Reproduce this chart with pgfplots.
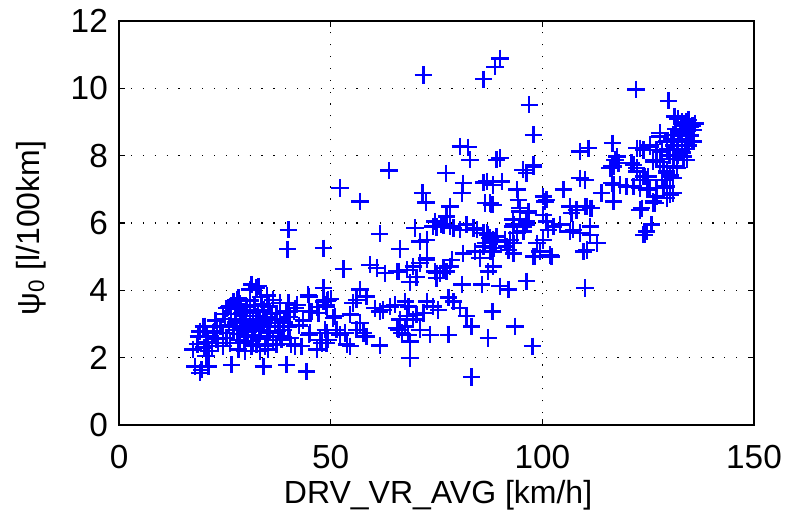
\documentclass[border=0pt]{standalone}
\usepackage{pgfplots}
\pgfplotsset{compat=1.18}
\usepackage{pgfplotstable}
\usepackage{fontspec}
\setmainfont{Liberation Sans}
\pgfplotstableread{
x y
31.3 4.17
32.9 4.12
30.9 4.02
32.5 4.08
28.2 3.77
27.8 3.72
26.2 3.52
25.4 3.47
25.8 3.50
27.0 3.67
36.4 3.72
38.0 3.62
40.0 3.62
41.6 3.47
39.6 3.37
44.7 3.87
44.9 3.82
48.3 4.07
45.5 3.37
47.1 3.32
49.0 3.52
42.0 3.57
44.9 3.38
46.9 3.50
41.3 3.38
40.3 3.20
49.1 3.70
30.1 3.52
30.9 3.32
32.5 3.23
34.1 3.42
34.9 3.13
35.7 2.93
33.3 2.83
31.7 2.68
30.1 2.63
28.6 2.53
27.0 2.83
24.6 2.73
23.1 2.93
22.3 2.73
20.7 2.63
19.9 2.93
19.1 2.78
18.7 2.63
20.3 2.93
24.0 2.93
22.4 2.78
17.5 2.24
21.1 2.19
21.9 2.34
24.6 2.34
26.2 2.43
28.2 2.24
29.7 2.19
31.3 2.34
33.3 2.19
35.2 2.24
37.2 2.39
38.4 2.53
40.4 2.58
41.6 2.34
43.1 2.34
45.1 2.73
46.7 2.24
47.5 2.53
49.0 2.73
49.0 2.43
40.6 2.40
44.9 2.68
28.6 3.13
29.4 3.03
30.1 2.93
30.9 2.98
31.7 3.13
32.5 3.03
33.3 3.08
34.1 2.98
30.5 2.78
32.1 2.88
29.0 3.32
29.8 3.23
27.8 2.93
35.3 3.52
37.2 3.32
38.0 3.13
36.8 3.03
38.8 2.83
40.0 2.93
38.0 2.63
36.4 2.53
34.9 2.63
34.5 2.34
32.5 2.39
23.4 2.43
25.4 2.58
17.9 1.74
19.5 1.64
21.1 1.74
19.1 1.55
26.6 1.79
34.1 1.74
39.6 1.79
44.3 1.59
40.0 5.80
39.8 5.22
48.3 5.25
21.0 2.45
22.8 3.10
25.0 3.15
26.5 3.30
27.5 3.45
31.0 3.70
33.5 3.80
35.0 3.85
32.0 3.55
33.8 3.60
36.0 3.30
37.5 2.80
39.0 3.05
42.5 2.95
43.5 3.10
26.0 2.95
28.0 2.70
29.5 2.45
31.5 2.50
33.0 2.55
35.5 2.75
24.5 3.30
23.0 2.55
20.0 2.30
18.5 2.40
20.5 2.05
29.0 2.85
31.0 3.10
32.8 3.35
34.5 3.20
30.0 3.40
28.5 3.60
33.0 2.95
27.5 3.05
61.6 5.68
69.9 5.85
71.1 5.45
72.7 5.50
66.4 5.23
53.0 4.63
59.3 4.76
60.9 4.66
62.8 4.51
66.0 4.56
68.0 4.61
69.5 4.71
71.1 4.81
72.7 4.91
70.3 4.39
68.7 4.24
74.6 4.56
75.8 4.51
75.0 4.36
78.6 4.91
78.2 4.71
76.6 4.66
81.3 5.10
84.1 5.15
85.3 4.96
88.4 5.15
87.2 4.56
88.4 4.71
81.0 4.17
85.7 4.17
90.0 4.12
92.0 4.02
96.3 4.27
91.2 5.50
92.0 5.20
93.2 5.40
97.9 5.00
95.5 5.90
93.1 5.90
49.4 3.72
48.9 3.57
55.3 3.62
56.9 4.02
58.5 3.82
56.1 3.72
54.6 3.28
51.0 3.23
60.5 3.47
62.4 3.42
64.0 3.52
65.2 3.57
61.6 3.37
67.6 3.67
68.4 3.52
68.0 3.23
69.5 3.13
70.3 3.28
71.9 3.33
72.7 3.67
74.2 3.52
75.4 3.42
65.6 2.88
66.8 2.73
68.3 2.68
68.7 2.48
71.1 2.83
73.5 2.68
77.8 2.68
61.6 2.36
68.7 1.99
83.3 1.43
77.8 3.79
79.0 3.67
80.5 3.47
82.1 3.23
83.3 2.93
87.2 2.58
88.2 3.37
93.5 2.93
97.7 2.34
48.3 3.67
50.0 3.75
50.6 3.18
48.7 2.83
51.4 2.83
52.2 2.68
53.4 2.73
53.8 2.39
54.6 2.34
56.1 2.83
56.9 3.03
57.7 2.73
58.5 2.63
49.4 2.53
47.9 2.44
66.4 3.13
66.0 2.83
67.6 2.93
71.9 10.40
86.1 10.27
88.8 10.64
90.0 10.89
96.9 9.51
97.9 8.62
80.6 8.27
82.5 8.25
82.9 7.88
90.0 7.93
95.4 7.58
96.3 7.48
97.9 7.73
63.8 7.56
52.2 7.04
56.9 6.64
77.2 7.48
81.3 7.18
81.0 6.89
71.7 6.89
72.5 6.61
86.1 7.20
88.4 7.13
90.4 7.23
87.6 6.59
88.4 6.54
94.0 6.99
94.3 6.69
94.7 6.34
96.7 6.34
78.2 6.49
77.4 6.19
74.2 5.90
75.0 5.88
76.6 5.92
78.2 5.90
93.1 6.10
96.3 6.04
74.6 6.04
76.2 5.95
79.0 5.85
80.6 5.80
82.1 5.95
83.7 5.85
84.5 5.80
86.1 5.70
87.6 5.55
89.2 5.60
88.0 5.15
65.6 4.56
75.0 4.51
77.4 4.56
72.7 4.96
89.2 7.88
86.9 7.23
86.5 6.59
88.0 6.54
86.5 5.40
88.5 5.25
87.0 5.65
89.0 5.45
116.6 8.37
108.9 8.12
110.9 8.22
117.2 7.88
116.8 7.68
116.0 7.63
122.3 8.22
123.9 8.17
125.4 8.27
127.0 8.17
126.2 7.82
121.5 7.73
122.3 7.53
123.9 7.38
124.7 7.28
108.9 7.33
105.0 6.99
100.2 6.79
101.0 6.69
114.0 6.89
116.8 7.13
118.4 7.13
119.9 7.08
121.5 7.08
123.1 7.04
125.0 6.99
127.0 6.79
116.8 6.64
123.1 6.39
126.2 6.59
106.5 6.49
108.1 6.39
110.5 6.49
111.6 6.44
94.7 6.44
96.7 6.29
100.2 6.24
101.0 6.04
102.6 5.90
104.2 5.95
106.5 5.75
108.9 5.70
111.3 5.90
112.9 5.40
109.7 5.15
125.8 5.95
123.9 5.65
93.2 5.95
94.0 5.70
95.5 5.75
96.3 5.95
92.4 5.50
91.6 5.30
93.2 5.10
98.7 5.40
100.2 5.50
99.4 5.15
101.8 5.05
86.9 5.70
88.4 5.50
86.1 5.30
87.6 5.15
110.5 5.20
98.3 5.00
99.5 5.15
102.2 5.00
101.4 5.80
107.3 5.80
111.3 5.65
110.1 4.07
110.1 7.28
122.1 9.97
129.8 9.63
131.2 9.16
133.3 8.96
134.9 8.86
134.1 8.67
135.7 8.77
134.5 9.06
136.1 8.96
135.7 8.42
127.8 8.57
129.4 8.42
130.9 8.62
132.1 8.47
135.3 8.42
123.1 8.22
128.2 8.12
130.2 8.02
131.8 8.17
133.3 7.97
134.1 7.88
127.8 8.67
125.4 8.32
126.2 7.88
127.8 7.82
128.6 7.68
130.9 7.68
133.3 7.88
131.8 7.63
129.4 7.48
130.2 7.38
130.9 7.33
129.0 7.28
124.3 7.38
125.4 7.04
128.6 7.04
130.2 6.84
126.6 6.59
123.5 6.44
124.6 5.75
117.6 7.97
116.4 7.68
118.0 7.78
121.1 7.78
122.3 7.63
125.0 7.38
123.1 7.28
127.0 7.88
129.4 7.53
130.2 7.43
128.2 7.28
129.4 7.08
130.9 6.89
129.4 6.74
127.0 7.04
124.7 6.99
126.2 6.64
116.4 7.18
100.6 6.64
106.9 6.29
110.1 6.49
111.3 6.44
124.1 5.65
97.9 7.68
131.0 8.30
132.0 8.50
132.5 8.70
133.0 8.40
133.5 8.80
134.0 8.60
134.5 8.30
133.0 8.10
132.0 8.00
131.5 8.80
130.5 8.50
129.5 8.20
130.0 8.00
131.0 7.90
134.0 9.00
135.0 8.60
133.0 9.00
132.0 9.10
135.5 8.90
133.8 8.20
}\datatable
\begin{document}
\begin{tikzpicture}
\useasboundingbox (-89.3pt,-65.25pt) rectangle (502.45pt,318.75pt);
\begin{axis}[
  scale only axis,
  width=476.2pt, height=303pt,
  xmin=0, xmax=150, ymin=0, ymax=12,
  xtick={0,50,100,150},
  ytick={0,2,4,6,8,10,12},
  minor tick num=0,
  tick align=inside,
  major tick length=4.5pt,
  tick style={black, line width=0.8pt},
  axis line style={black, line width=1.2pt},
  grid=major,
  major grid style={black, line width=0.8pt, dash pattern=on 0.9pt off 8pt},
  /pgf/number format/assume math mode=true,
  ticklabel style={font=\fontsize{25}{25}\selectfont},
  xticklabel style={anchor=base, inner sep=0pt, yshift=-32.25pt},
  yticklabel style={anchor=east, inner sep=0pt, xshift=-8.25pt},
  clip=false,
]
\addplot[only marks, mark=+, mark size=6.5pt, color={rgb,255:red,0;green,0;blue,255}, line width=1.8pt] table[x=x,y=y] {\datatable};
\end{axis}
\node[font=\fontsize{24}{24}\selectfont, anchor=base] at (239.25pt,-58.5pt) {DRV\_VR\_AVG [km/h]};
\node[font=\fontsize{24}{24}\selectfont, anchor=base, rotate=90] at (-60pt,147.75pt) {ψ\textsubscript{0} [l/100km]};
\end{tikzpicture}
\end{document}
